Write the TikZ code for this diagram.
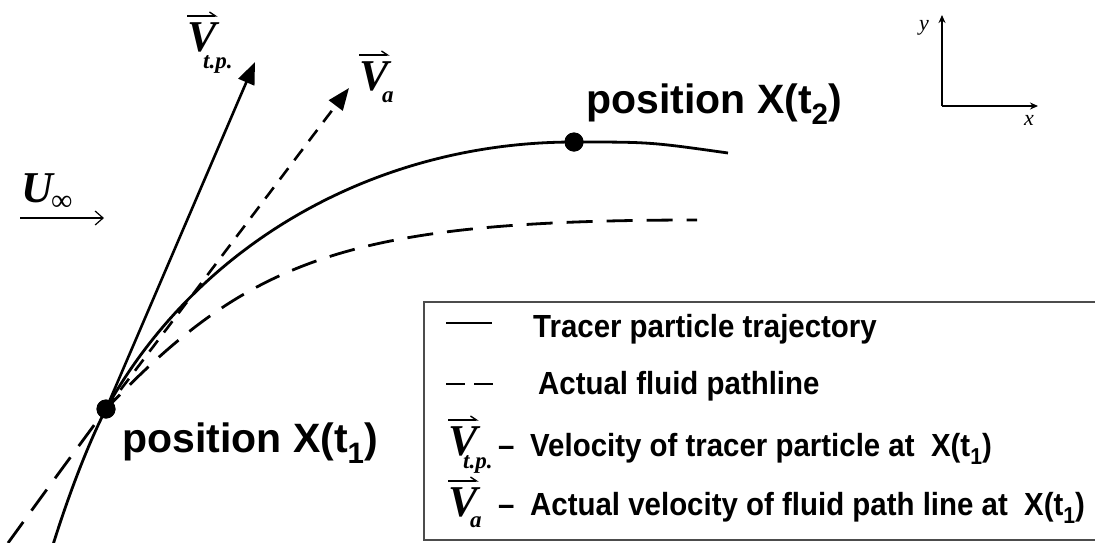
\documentclass[tikz,border=0pt]{standalone}
\usepackage{fontspec}
\usepackage{graphicx}
\setmainfont{Liberation Sans}
\newfontfamily\vfont{Liberation Serif}
\newfontfamily\legfont[FakeStretch=0.92]{Liberation Sans}
\usetikzlibrary{arrows.meta}

\newcommand\lowsub[1]{\raisebox{-0.28em}{\scalebox{0.72}{#1}}}
% vector symbol: name, base point, subscript, subscript shift
\newcommand\vecV[4]{%
  \node[vsym] (#1) at (#2) {V};
  \node[vsub] (#1sub) at ([#4]#1.base west) {#3};
  \draw[overarr] ([yshift=6pt]#1.north west) -- ([yshift=6pt,xshift=1pt]#1.north east);
}

\tikzset{
  traj/.style={line width=2.8pt},
  pathln/.style={line width=2.8pt,dash pattern=on 26pt off 14pt},
  varrow/.style={line width=2.6pt,-{Triangle[length=22pt,width=17pt]}},
  posdot/.style={circle,fill,inner sep=0pt,minimum size=19pt},
  poslabel/.style={font=\bfseries\fontsize{41}{42}\selectfont,anchor=base west,inner sep=0pt},
  legtext/.style={font=\legfont\bfseries\fontsize{32}{33}\selectfont,anchor=base west,inner sep=0pt},
  vsym/.style={font=\vfont\bfseries\itshape\fontsize{44}{44}\selectfont,inner sep=0pt,anchor=base west},
  vsub/.style={font=\vfont\bfseries\itshape\fontsize{23}{23}\selectfont,inner sep=0pt,anchor=base west},
  overarr/.style={line width=1.4pt,-{Straight Barb[left,length=6pt,width=8pt]}},
  axis/.style={line width=1.8pt,-{Stealth[length=8pt,width=7pt]}},
  axlabel/.style={font=\vfont\itshape\fontsize{22}{22}\selectfont,inner sep=0pt,anchor=base west},
  legbox/.style={draw=black!70,line width=1.6pt},
}

\begin{document}
\begin{tikzpicture}[x=1pt,y=-1pt]
\useasboundingbox (0,0) rectangle (1095,542);

% positions
\node[posdot] (p1) at (106,409) {};
\node[posdot] (p2) at (574,142) {};

% trajectories
\draw[traj] (52,548) .. controls (70,490) and (90,440) .. (p1.center)
  .. controls (200,240) and (380,142) .. (p2.center)
  .. controls (650,142) .. (728,153);
\draw[pathln] (8,543) .. controls (50,485) .. (p1.center)
  .. controls (250,258) and (350,220) .. (697,220);

% velocity vectors
\coordinate (tptip) at (255,62);
\coordinate (atip) at (349,88);
\draw[varrow] (p1.center) -- (tptip);
\draw[varrow,dash pattern=on 14pt off 10pt] (p1.center) -- (atip);
\node[posdot] at (p1) {};
\node[posdot] at (p2) {};

\vecV{vtp}{187,51}{t.p.}{xshift=16pt,yshift=-17pt}
\vecV{va}{359,90}{a}{xshift=23pt,yshift=-12pt}

\node[poslabel] (l1) at (122,452) {position X(t\lowsub{1})};
\node[poslabel] (l2) at (586,113) {position X(t\lowsub{2})};

% free stream
\node[vsym] (uinf) at (21,202) {U};
\node[vsub,font=\vfont\fontsize{30}{30}\selectfont] (uinfsub) at (51,210) {∞};
\coordinate (ua) at (20,218);
\coordinate (ub) at (104,218);
\draw[line width=1.2pt,-{Straight Barb[length=8pt,width=14pt]}] (ua) -- (ub);

% axes
\coordinate (o) at (942,106);
\coordinate (ytip) at (942,15);
\coordinate (xtip) at (1038,106);
\draw[axis] (o) -- (ytip);
\draw[axis] (o) -- (xtip);
\node[axlabel] (ylab) at (919,30) {y};
\node[axlabel] (xlab) at (1024,125) {x};

% legend
\draw[legbox] (424,302) rectangle (1100,540);
\draw[traj] (446,323) -- (492,323);
\node[legtext] (leg1) at (533,337) {Tracer particle trajectory};
\draw[pathln,dash pattern=on 19pt off 9pt] (446,384) -- (494,384);
\node[legtext] (leg2) at (538,394) {Actual fluid pathline};
\vecV{lvtp}{448,455}{t.p.}{xshift=15pt,yshift=-13pt}
\node[legtext] (leg3) at (498,456) {\makebox[32pt][l]{–}Velocity of tracer particle at\ \ X(t\lowsub{1})};
\vecV{lva}{448,516}{a}{xshift=22pt,yshift=-11pt}
\node[legtext] (leg4) at (498,515) {\makebox[32pt][l]{–}Actual velocity of fluid path line at\ \ X(t\lowsub{1})};
\end{tikzpicture}
\end{document}
